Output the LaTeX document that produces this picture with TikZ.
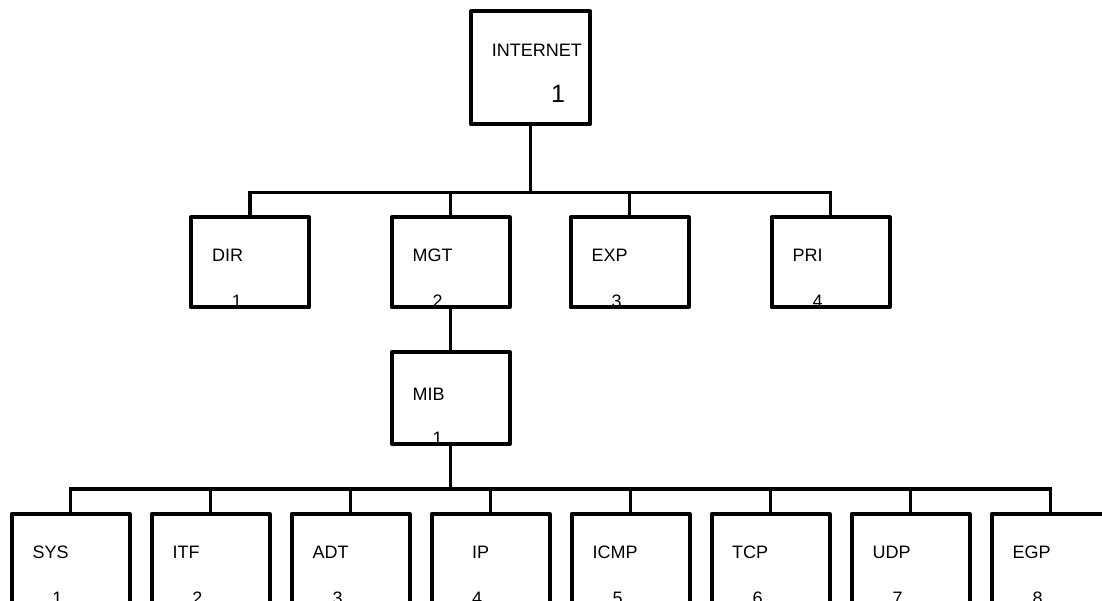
\documentclass[tikz,border=0pt]{standalone}
\usepackage{fontspec}
\setmainfont{Liberation Sans}
\begin{document}
\begin{tikzpicture}[x=1pt,y=-1pt,
  box/.style={draw, line width=4pt, line join=round, inner sep=0pt, outer sep=0pt, minimum width=118pt, anchor=north west},
  lvbox/.style={box, minimum height=90pt},
  lowbox/.style={box, minimum height=130pt},
  conn/.style={line width=3.3pt, line cap=butt, line join=miter},
  lbl/.style={inner sep=0pt, anchor=base west, font=\fontsize{18}{20}\selectfont},
  num/.style={inner sep=0pt, anchor=base, font=\fontsize{18}{20}\selectfont},
  bignum/.style={inner sep=0pt, anchor=base, font=\fontsize{25}{28}\selectfont}]
\useasboundingbox (0,0) rectangle (1102,601);
\clip (0,0) rectangle (1102,601);
\fill[white] (0,0) rectangle (1102,601);

% texts (drawn first so box edges sit over the numbers)
\node[lbl] (tinternet) at (491.7,56.7) {INTERNET};
\node[bignum] (ninternet) at (558,103) {1};

\node[lbl] (tdir) at (212,261.7) {DIR};
\node[num] (ndir) at (237,307.5) {1};
\node[lbl] (tmgt) at (412.5,261.7) {MGT};
\node[num] (nmgt) at (437.5,307.5) {2};
\node[lbl] (texp) at (591.5,261.7) {EXP};
\node[num] (nexp) at (616.5,307.5) {3};
\node[lbl] (tpri) at (792.5,261.7) {PRI};
\node[num] (npri) at (817.5,307.5) {4};

\node[lbl] (tmib) at (412.5,400) {MIB};
\node[num] (nmib) at (437.5,444.7) {1};

\node[lbl] (tsys) at (32.5,558) {SYS};
\node[num] (nsys) at (57.5,604) {1};
\node[lbl] (titf) at (172.5,558) {ITF};
\node[num] (nitf) at (197.5,604) {2};
\node[lbl] (tadt) at (312.5,558) {ADT};
\node[num] (nadt) at (337.5,604) {3};
\node[lbl] (tip) at (472,558) {IP};
\node[num] (nip) at (477,604) {4};
\node[lbl] (ticmp) at (592.5,558) {ICMP};
\node[num] (nicmp) at (617.5,604) {5};
\node[lbl] (ttcp) at (732,558) {TCP};
\node[num] (ntcp) at (757.5,604) {6};
\node[lbl] (tudp) at (872.5,558) {UDP};
\node[num] (nudp) at (897.5,604) {7};
\node[lbl] (tegp) at (1012.5,558) {EGP};
\node[num] (negp) at (1037.5,604) {8};

% boxes
\node[box, minimum width=119pt, minimum height=113pt] (internet) at (471,11.5) {};
\node[lvbox] (dir) at (191,217.3) {};
\node[lvbox] (mgt) at (391.5,217.3) {};
\node[lvbox] (exp) at (570.5,217.3) {};
\node[lvbox] (pri) at (771.5,217.3) {};
\node[lvbox, minimum height=92pt] (mib) at (391.5,352) {};
\node[lowbox] (sys) at (11.5,514) {};
\node[lowbox] (itf) at (151.5,514) {};
\node[lowbox] (adt) at (291.5,514) {};
\node[lowbox] (ip) at (431.5,514) {};
\node[lowbox] (icmp) at (571.5,514) {};
\node[lowbox] (tcp) at (711.5,514) {};
\node[lowbox] (udp) at (851.5,514) {};
\node[lowbox] (egp) at (991.5,514) {};

% level 1 bus
\coordinate (b1) at (530.5,192.5);
\draw[conn] (internet.south) -- (internet.south |- b1);
\draw[conn] (dir.north) |- (b1) -| (pri.north);
\draw[conn] (mgt.north) -- (mgt.north |- b1);
\draw[conn] (exp.north) -- (exp.north |- b1);

% MGT to MIB
\draw[conn] (mgt.south) -- (mib.north);

% level 3 bus
\coordinate (b2) at (450.5,489);
\draw[conn] (mib.south) -- (mib.south |- b2);
\draw[conn] (sys.north) |- (b2) -| (egp.north);
\foreach \n in {itf,adt,ip,icmp,tcp,udp}
  \draw[conn] (\n.north) -- (\n.north |- b2);
\end{tikzpicture}
\end{document}
